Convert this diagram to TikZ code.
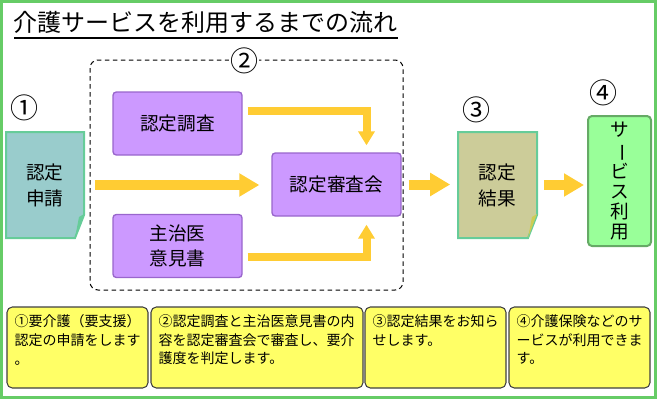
\documentclass[tikz,border=0pt]{standalone}
\usepackage{fontspec}
\setmainfont{Noto Sans CJK JP}
\usepackage{graphicx}
\usetikzlibrary{arrows.meta}

\definecolor{wakugreen}{HTML}{66CC66}
\definecolor{shinseiteal}{HTML}{99CCCC}
\definecolor{docgreen}{HTML}{66CC99}
\definecolor{kekkakhaki}{HTML}{CCCC99}
\definecolor{kekkafold}{HTML}{CCCC55}
\definecolor{murasaki}{HTML}{CC99FF}
\definecolor{murasakiline}{HTML}{9966CC}
\definecolor{servicegreen}{HTML}{99FF99}
\definecolor{serviceline}{HTML}{66AA66}
\definecolor{fusenyellow}{HTML}{FFFF66}
\definecolor{yaji}{HTML}{FFCC33}

\begin{document}
\begin{tikzpicture}[x=0.75pt,y=-0.75pt,
    num/.style={font=\fontsize{21}{22}\selectfont, inner sep=0.5pt},
    doctext/.style={align=center, font=\fontsize{14}{19.5}\selectfont,
      minimum width=58.5pt, minimum height=79.5pt, inner sep=0pt},
    murabox/.style={draw=murasakiline, fill=murasaki, line width=1pt,
      rounded corners=2.5pt, align=center, inner sep=0pt,
      font=\fontsize{14}{19}\selectfont,
      minimum width=96.75pt, minimum height=47.25pt},
    fusen/.style={draw=black!75, fill=fusenyellow, line width=0.8pt,
      rounded corners=4pt, minimum height=60.75pt, inner sep=0pt},
    fusentext/.style={anchor=north west, align=left, inner sep=0pt,
      font=\fontsize{10.5}{14}\selectfont},
    futoya/.style={draw=yaji, line width=7.5pt,
      -{Triangle[length=15pt,width=16.5pt]}},
    hosoya/.style={draw=yaji, line width=6pt, line join=miter,
      -{Triangle[length=10.5pt,width=12pt]}}]
  \useasboundingbox (0,0) rectangle (657,400);
  \draw[wakugreen, line width=2.25pt] (1.5,1.5) rectangle (655.5,397.5);

  % title
  \node[anchor=west, inner sep=0pt, font=\fontsize{18}{20}\selectfont] (title) at (13,22) {介護サービスを利用するまでの流れ};
  \draw[line width=1.1pt] (14,38) -- (398,38);

  % step 2 group
  \draw[dashed, dash pattern=on 3.5pt off 2.5pt, line width=0.75pt, rounded corners=6pt] (90,60) rectangle (403,290);

  \node[num] (n1) at (24,108) {①};
  \node[num, fill=white] (n2) at (244,61) {②};
  \node[num] (n3) at (476,110) {③};
  \node[num] (n4) at (603,93) {④};

  % documents
  \filldraw[draw=docgreen, fill=shinseiteal, line width=1.5pt] (6,132) -- (84,132) -- (84,215) -- (75,238) -- (6,238) -- cycle;
  \fill[docgreen] (84,214) -- (75,238) -- (79,217) -- cycle;
  \node[doctext] (shinsei) at (45,185) {認定\\申請};

  \filldraw[draw=docgreen, fill=kekkakhaki, line width=1.5pt] (458,132) -- (537,132) -- (537,215) -- (528,238) -- (458,238) -- cycle;
  \fill[kekkafold] (537,214) -- (528,238) -- (532,217) -- cycle;
  \node[doctext] (kekka) at (497.5,185) {認定\\結果};

  % boxes
  \node[murabox] (chosa) at (177.5,123.5) {認定調査};
  \node[murabox] (ishi) at (177.5,246) {主治医\\意見書};
  \node[murabox] (shinsakai) at (336.5,184.5) {認定審査会};
  \node[draw=serviceline, fill=servicegreen, line width=1.5pt, rounded corners=3pt,
    minimum width=47.25pt, minimum height=97.5pt, inner sep=0pt, align=center,
    font=\fontsize{14}{15}\selectfont] (service) at (619.5,181)
    {サ\\\rotatebox[origin=c]{-90}{ー}\\ビ\\ス\\利\\用};

  % arrows
  \draw[futoya, shorten <=8.25pt, shorten >=9pt] (shinsei.east) -- (shinsei.east -| shinsakai.west);
  \draw[hosoya, shorten <=3.75pt, shorten >=5.25pt] ([yshift=9.75pt]chosa.east) -| ([xshift=22.5pt]shinsakai.north);
  \draw[hosoya, shorten <=3.75pt, shorten >=6pt] ([yshift=-8.6pt]ishi.east) -| ([xshift=22.5pt]shinsakai.south);
  \draw[futoya, shorten <=5.25pt, shorten >=6pt] (shinsakai.east) -- (shinsakai.east -| kekka.west);
  \draw[futoya, shorten <=5.25pt, shorten >=2.25pt] (kekka.east) -- (kekka.east -| service.west);

  % notes
  \node[fusen, minimum width=105.75pt] (setsu1) at (77.5,347.5) {};
  \node[fusen, minimum width=159pt] (setsu2) at (257,347.5) {};
  \node[fusen, minimum width=105.75pt] (setsu3) at (435.5,347.5) {};
  \node[fusen, minimum width=105.75pt] (setsu4) at (579.5,347.5) {};
  \node[fusentext] (text1) at ([xshift=6pt,yshift=-6pt]setsu1.north west) {①要介護（要支援）\\認定の申請をします\\。};
  \node[fusentext] (text2) at ([xshift=6pt,yshift=-6pt]setsu2.north west) {②認定調査と主治医意見書の内\\容を認定審査会で審査し、要介\\護度を判定します。};
  \node[fusentext] (text3) at ([xshift=6pt,yshift=-6pt]setsu3.north west) {③認定結果をお知ら\\せします。};
  \node[fusentext] (text4) at ([xshift=6pt,yshift=-6pt]setsu4.north west) {④介護保険などのサ\\ービスが利用できま\\す。};
\end{tikzpicture}
\end{document}
